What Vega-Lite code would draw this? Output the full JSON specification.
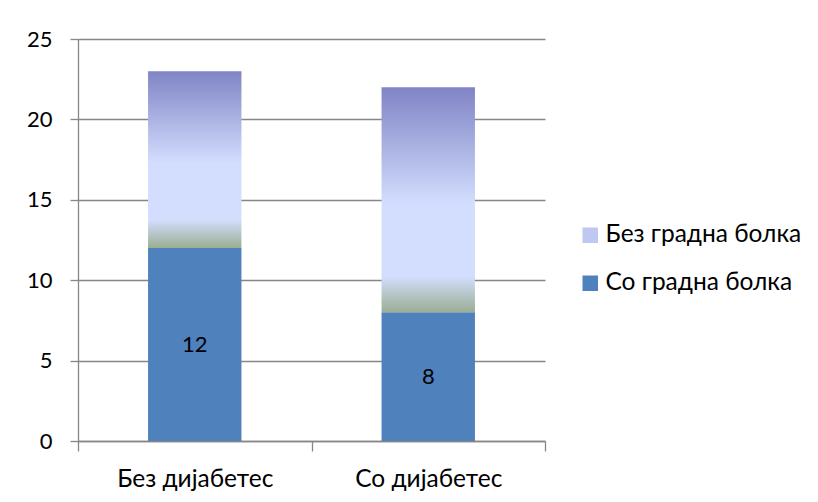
{
  "$schema": "https://vega.github.io/schema/vega-lite/v6.json",
  "width": 467,
  "height": 402,
  "autosize": "none",
  "padding": {"left": 78, "top": 39, "right": 273, "bottom": 61},
  "background": "white",
  "config": {
    "view": {"stroke": null},
    "font": "Lato",
    "axis": {"labelFont": "Lato", "labelColor": "#000000", "labelFontSize": 22, "domainColor": "#868686", "tickColor": "#868686", "gridColor": "#868686", "domainWidth": 1.3, "tickWidth": 1.3, "gridWidth": 1.3}
  },
  "data": {
    "values": [
      {"diab": "Без дијабетес", "series": "Со градна болка", "value": 12},
      {"diab": "Без дијабетес", "series": "Без градна болка", "value": 11},
      {"diab": "Со дијабетес", "series": "Со градна болка", "value": 8},
      {"diab": "Со дијабетес", "series": "Без градна болка", "value": 14}
    ]
  },
  "transform": [
    {"stack": "value", "groupby": ["diab"], "sort": [{"field": "series", "order": "descending"}], "as": ["v0", "v1"]},
    {"calculate": "(datum.v0 + datum.v1) / 2", "as": "mid"}
  ],
  "encoding": {
    "x": {
      "field": "diab", "type": "nominal", "sort": null,
      "scale": {"paddingInner": 0, "paddingOuter": 0},
      "axis": {"title": null, "labelAngle": 0, "tickBand": "extent", "tickSize": 10, "labelPadding": 16, "labelFontSize": 24.5, "grid": false}
    }
  },
  "layer": [
    {
      "transform": [{"filter": "datum.series === 'Со градна болка'"}],
      "mark": {"type": "bar", "width": {"band": 0.4}},
      "encoding": {
        "y": {
          "field": "v1", "type": "quantitative",
          "scale": {"domain": [0, 25], "nice": false},
          "axis": {"title": null, "values": [0, 5, 10, 15, 20, 25], "grid": true, "tickSize": 8, "labelPadding": 18}
        },
        "y2": {"field": "v0"},
        "color": {
          "field": "series", "type": "nominal",
          "scale": {"domain": ["Без градна болка", "Со градна болка"], "range": ["#BFC8F1", "#4F81BD"]},
          "legend": {
            "title": null, "orient": "none", "legendX": 500, "legendY": 184,
            "padding": 0, "symbolType": "square", "symbolSize": 240, "symbolStrokeWidth": 0,
            "labelFont": "Lato", "labelFontSize": 24.5, "labelColor": "#000000", "labelOffset": 3,
            "labelLimit": 400, "rowPadding": 23
          }
        }
      }
    },
    {
      "transform": [{"filter": "datum.series === 'Без градна болка'"}],
      "mark": {
        "type": "bar", "width": {"band": 0.4},
        "fill": {"gradient": "linear", "x1": 0, "y1": 0, "x2": 0, "y2": 1, "stops": [
          {"offset": 0, "color": "#8084C5"},
          {"offset": 0.52, "color": "#D3DEFE"},
          {"offset": 0.84, "color": "#D3DEFE"},
          {"offset": 1, "color": "#9AAE92"}
        ]}
      },
      "encoding": {
        "y": {"field": "v1", "type": "quantitative"},
        "y2": {"field": "v0"}
      }
    },
    {
      "transform": [{"filter": "datum.series === 'Со градна болка'"}],
      "mark": {"type": "text", "font": "Lato", "fontSize": 22, "color": "#000000", "baseline": "middle"},
      "encoding": {
        "y": {"field": "mid", "type": "quantitative"},
        "text": {"field": "value", "type": "quantitative"}
      }
    }
  ]
}
